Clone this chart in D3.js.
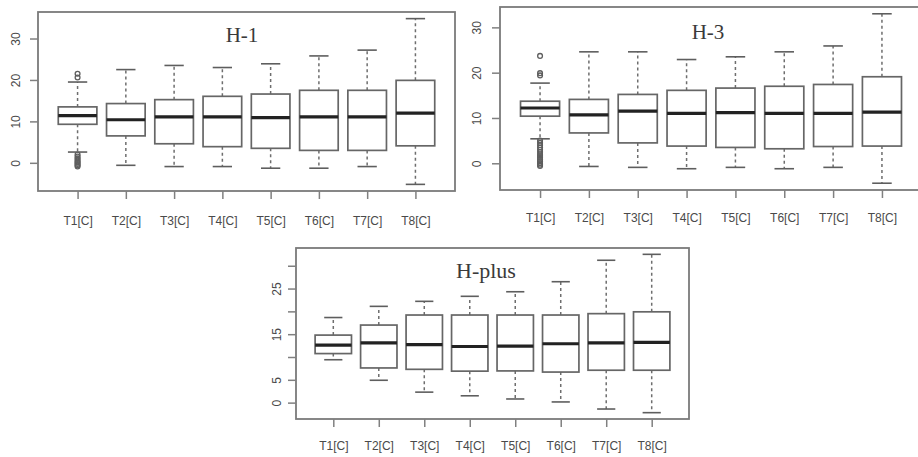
<!DOCTYPE html>
<html>
<head>
  <meta charset="utf-8">
  <style>
    body { margin: 0; background: #fff; }
    .frame { fill: none; stroke: #7a7a7a; stroke-width: 1.8; }
    .box { fill: #fff; stroke: #666; stroke-width: 1.7; }
    .med { stroke: #222; stroke-width: 3.2; }
    .whisk { stroke: #6e6e6e; stroke-width: 1.5; stroke-dasharray: 3,3; }
    .cap { stroke: #5e5e5e; stroke-width: 1.6; }
    .out { fill: none; stroke: #5e5e5e; stroke-width: 1.3; }
    .axis line { stroke: #808080; stroke-width: 1.5; }
    .axis text { font-family: "Liberation Sans", Arial, sans-serif; font-size: 12px; fill: #4a4a4a; }
    .title { font-family: "Liberation Serif", "Times New Roman", serif; fill: #3a3a3a; text-anchor: middle; }
  </style>
</head>
<body>
  <script src="https://cdnjs.cloudflare.com/ajax/libs/d3/7.8.5/d3.min.js"></script>
  <script>
    // categories
    const groups = ["T1[C]", "T2[C]", "T3[C]", "T4[C]", "T5[C]", "T6[C]", "T7[C]", "T8[C]"];

    // H-1 box stats
    const h1Low  = [2.6, -0.6, -0.9, -0.9, -1.3, -1.3, -0.9, -5.2];
    const h1Q1   = [9.3, 6.5, 4.6, 3.9, 3.5, 3.0, 3.0, 4.1];
    const h1Med  = [11.4, 10.4, 11.1, 11.1, 10.9, 11.1, 11.1, 12.0];
    const h1Q3   = [13.5, 14.3, 15.25, 16.05, 16.6, 17.5, 17.5, 19.9];
    const h1High = [19.5, 22.5, 23.5, 23.0, 23.9, 25.8, 27.2, 34.8];
    const h1Out  = [[21.5, 20.6, 2.0, 1.5, 1.1, 0.7, 0.3, 0, -0.3, -0.6, -0.9], [], [], [], [], [], [], []];

    // H-3 box stats
    const h3Low  = [5.4, -0.7, -0.9, -1.2, -0.9, -1.2, -0.9, -4.4];
    const h3Q1   = [10.4, 6.7, 4.5, 3.8, 3.5, 3.2, 3.7, 3.8];
    const h3Med  = [12.2, 10.7, 11.5, 11.0, 11.2, 11.0, 11.0, 11.3];
    const h3Q3   = [13.7, 14.1, 15.2, 16.1, 16.6, 17.0, 17.4, 19.1];
    const h3High = [17.7, 24.6, 24.6, 22.9, 23.5, 24.6, 25.9, 33.0];
    const h3Out  = [[23.7, 19.9, 19.4, 5.0, 4.5, 4.0, 3.5, 3.0, 2.5, 2.0, 1.6, 1.2, 0.8, 0.4, 0, -0.3, -0.6], [], [], [], [], [], [], []];

    // H-plus box stats
    const hpLow  = [9.4, 4.9, 2.3, 1.5, 0.8, 0.15, -1.4, -2.2];
    const hpQ1   = [10.75, 7.6, 7.3, 6.9, 6.95, 6.7, 7.1, 7.1];
    const hpMed  = [12.6, 13.1, 12.7, 12.3, 12.4, 12.9, 13.1, 13.2];
    const hpQ3   = [14.8, 17.0, 19.2, 19.2, 19.2, 19.2, 19.5, 19.9];
    const hpHigh = [18.65, 21.1, 22.2, 23.3, 24.3, 26.5, 31.2, 32.5];
    const hpOut  = [[], [], [], [], [], [], [], []];

    // tick values
    const h1Ticks = [0, 10, 20, 30];
    const h3Ticks = [0, 10, 20, 30];
    const hpTicks = [0, 5, 10, 15, 20, 25, 30];
    const hpTickLabels = [0, 5, 15, 25];

    const svg = d3.select("body").append("svg")
      .attr("width", 918)
      .attr("height", 457);

    function drawPanel(p) {
      const n = groups.length;
      // R style: xlim 0.5..n+0.5 plus 4%
      const x = d3.scaleLinear()
        .domain([0.5 - 0.04 * n, n + 0.5 + 0.04 * n])
        .range([p.left, p.right]);

      const allVals = p.low.concat(p.high, d3.merge(p.out));
      const lo = d3.min(allVals), hi = d3.max(allVals);
      const pad = (hi - lo) * 0.04;
      const y = d3.scaleLinear().domain([lo - pad, hi + pad]).range([p.bottom, p.top]);

      const g = svg.append("g");
      const bw = x(1.4) - x(0.6);

      const data = groups.map((name, i) => ({
        i: i + 1, low: p.low[i], q1: p.q1[i], med: p.med[i], q3: p.q3[i], high: p.high[i], out: p.out[i]
      }));

      const b = g.selectAll(".bx").data(data).enter().append("g");

      // whiskers
      b.append("line").attr("class", "whisk")
        .attr("x1", d => x(d.i)).attr("x2", d => x(d.i))
        .attr("y1", d => y(d.q3)).attr("y2", d => y(d.high));
      b.append("line").attr("class", "whisk")
        .attr("x1", d => x(d.i)).attr("x2", d => x(d.i))
        .attr("y1", d => y(d.q1)).attr("y2", d => y(d.low));
      b.append("line").attr("class", "cap")
        .attr("x1", d => x(d.i) - bw / 4).attr("x2", d => x(d.i) + bw / 4)
        .attr("y1", d => y(d.high)).attr("y2", d => y(d.high));
      b.append("line").attr("class", "cap")
        .attr("x1", d => x(d.i) - bw / 4).attr("x2", d => x(d.i) + bw / 4)
        .attr("y1", d => y(d.low)).attr("y2", d => y(d.low));

      // box
      b.append("rect").attr("class", "box")
        .attr("x", d => x(d.i) - bw / 2)
        .attr("width", bw)
        .attr("y", d => y(d.q3))
        .attr("height", d => y(d.q1) - y(d.q3));
      b.append("line").attr("class", "med")
        .attr("x1", d => x(d.i) - bw / 2).attr("x2", d => x(d.i) + bw / 2)
        .attr("y1", d => y(d.med)).attr("y2", d => y(d.med));

      // outliers
      b.selectAll("circle").data(d => d.out.map(v => ({ i: d.i, v: v }))).enter()
        .append("circle").attr("class", "out")
        .attr("cx", d => x(d.i)).attr("cy", d => y(d.v)).attr("r", 2.4);

      // frame
      g.append("rect").attr("class", "frame")
        .attr("x", p.left).attr("y", p.top)
        .attr("width", p.right - p.left).attr("height", p.bottom - p.top);

      // x axis
      const xAxis = d3.axisBottom(x)
        .tickValues(d3.range(1, n + 1))
        .tickFormat(i => groups[i - 1])
        .tickSize(8).tickPadding(p.xPad);
      const gx = g.append("g").attr("class", "axis")
        .attr("transform", `translate(0,${p.bottom})`)
        .call(xAxis);
      gx.select(".domain").remove();

      // y axis, labels rotated like R
      const yAxis = d3.axisLeft(y)
        .tickValues(p.ticks)
        .tickFormat(v => p.labels.indexOf(v) >= 0 ? v : "")
        .tickSize(8);
      const gy = g.append("g").attr("class", "axis")
        .attr("transform", `translate(${p.left},0)`)
        .call(yAxis);
      gy.select(".domain").remove();
      gy.selectAll("text")
        .attr("x", 0).attr("y", -p.yPad).attr("dy", 0)
        .attr("text-anchor", "middle")
        .attr("transform", "rotate(-90)");

      // title
      g.append("text").attr("class", "title")
        .attr("x", p.titleX).attr("y", p.titleY)
        .style("font-size", p.titleSize + "px")
        .text(p.title);
    }

    drawPanel({
      title: "H-1", titleX: 242, titleY: 42, titleSize: 21,
      left: 38, right: 455, top: 12, bottom: 191, xPad: 17, yPad: 18,
      low: h1Low, q1: h1Q1, med: h1Med, q3: h1Q3, high: h1High, out: h1Out,
      ticks: h1Ticks, labels: h1Ticks
    });

    drawPanel({
      title: "H-3", titleX: 708, titleY: 39, titleSize: 21,
      left: 500, right: 922, top: 7, bottom: 190, xPad: 15, yPad: 19,
      low: h3Low, q1: h3Q1, med: h3Med, q3: h3Q3, high: h3High, out: h3Out,
      ticks: h3Ticks, labels: h3Ticks
    });

    drawPanel({
      title: "H-plus", titleX: 486, titleY: 278, titleSize: 22,
      left: 296, right: 689, top: 248, bottom: 419, xPad: 14, yPad: 15,
      low: hpLow, q1: hpQ1, med: hpMed, q3: hpQ3, high: hpHigh, out: hpOut,
      ticks: hpTicks, labels: hpTickLabels
    });
  </script>
</body>
</html>
